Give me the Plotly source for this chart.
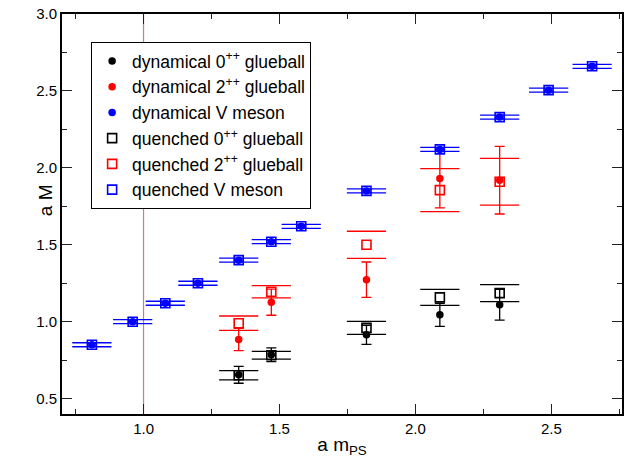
import plotly.graph_objects as go

# ---- data ----
mps_v = [0.81, 0.96, 1.08, 1.20, 1.35, 1.47, 1.58, 1.82, 2.09, 2.31, 2.49, 2.65]
dyn_v = [0.85, 1.00, 1.12, 1.25, 1.40, 1.52, 1.62, 1.85, 2.12, 2.33, 2.505, 2.66]
dyn_v_err = [0.008, 0.008, 0.008, 0.008, 0.008, 0.008, 0.008, 0.008, 0.008, 0.008, 0.008, 0.008]
que_v = [0.85, 1.00, 1.12, 1.25, 1.40, 1.52, 1.62, 1.85, 2.12, 2.33, 2.505, 2.66]
que_v_err = [0.013, 0.013, 0.013, 0.013, 0.013, 0.013, 0.013, 0.013, 0.013, 0.013, 0.013, 0.013]

mps_g = [1.35, 1.47, 1.82, 2.09, 2.31]
dyn_0 = [0.655, 0.785, 0.915, 1.045, 1.11]
dyn_0_err = [0.055, 0.045, 0.062, 0.075, 0.10]
que_0 = [0.652, 0.782, 0.96, 1.158, 1.186]
que_0_err = [0.03, 0.025, 0.042, 0.052, 0.055]

dyn_2 = [0.884, 1.127, 1.273, 1.93, 1.92]
dyn_2_err = [0.072, 0.085, 0.115, 0.19, 0.22]
que_2 = [0.99, 1.195, 1.50, 1.855, 1.91]
que_2_err = [0.047, 0.04, 0.088, 0.14, 0.152]

x_ticks = [1.0, 1.5, 2.0, 2.5]
y_ticks = [0.5, 1.0, 1.5, 2.0, 2.5, 3.0]

BLACK = "#000000"
RED = "#ff0000"
BLUE = "#0000ff"

fig = go.Figure()

def caps(x, y, e, color):
    hi = [a + b for a, b in zip(y, e)]
    lo = [a - b for a, b in zip(y, e)]
    fig.add_trace(go.Scatter(
        x=list(x) + list(x), y=hi + lo, mode="markers", showlegend=False,
        hoverinfo="skip",
        marker=dict(symbol="line-ew", size=28, color=color,
                    line=dict(color=color, width=1.3))))

# quenched caps (no riser)
caps(mps_g, que_0, que_0_err, BLACK)
caps(mps_g, que_2, que_2_err, RED)
caps(mps_v, que_v, que_v_err, BLUE)

def dyn(x, y, e, color, name, rank):
    fig.add_trace(go.Scatter(
        x=x, y=y, mode="markers", name=name, legendrank=rank,
        marker=dict(symbol="circle", size=7.5, color=color,
                    line=dict(width=0)),
        error_y=dict(type="data", array=e, visible=True, color=color,
                     thickness=1.3, width=5)))

def que(x, y, color, name, rank):
    fig.add_trace(go.Scatter(
        x=x, y=y, mode="markers", name=name, legendrank=rank,
        marker=dict(symbol="square-open", size=9, color=color,
                    line=dict(color=color, width=1.6))))

que(mps_g, que_0, BLACK, "quenched 0<sup>++</sup> glueball", 4)
que(mps_g, que_2, RED, "quenched 2<sup>++</sup> glueball", 5)
dyn(mps_g, dyn_0, dyn_0_err, BLACK, "dynamical 0<sup>++</sup> glueball", 1)
dyn(mps_g, dyn_2, dyn_2_err, RED, "dynamical 2<sup>++</sup> glueball", 2)
dyn(mps_v, dyn_v, dyn_v_err, BLUE, "dynamical V meson", 3)
que(mps_v, que_v, BLUE, "quenched V meson", 6)

fig.add_shape(type="line", xref="x", yref="paper", x0=1.0, x1=1.0, y0=0, y1=1,
              line=dict(color="#cc7f7f", width=1.2), layer="below")

axis_common = dict(
    showgrid=False, zeroline=False, showline=True, linecolor="black",
    linewidth=2, mirror="ticks", ticks="inside", ticklen=10, tickwidth=1,
    tickcolor="#222222", tickfont=dict(size=15, color="black"),
    automargin=False,
)

fig.update_xaxes(
    range=[0.7, 2.76], tickvals=x_ticks, ticktext=[f"{v:.1f}" for v in x_ticks],
    minor=dict(dtick=0.25, tick0=0.75, ticks="inside", ticklen=5,
               tickcolor="#222222", showgrid=False),
    title=dict(text="a m<sub>PS</sub>", font=dict(size=19, color="black")),
    **axis_common)
fig.update_yaxes(
    range=[0.4, 3.0], tickvals=y_ticks, ticktext=[f"{v:.1f}" for v in y_ticks],
    minor=dict(dtick=0.25, tick0=0.75, ticks="inside", ticklen=5,
               tickcolor="#222222", showgrid=False),
    **axis_common)

fig.add_annotation(text="a M", xref="paper", yref="paper",
                   x=-0.030, y=0.535, xanchor="center", yanchor="middle",
                   textangle=-90, showarrow=False,
                   font=dict(size=19, color="black"))

fig.update_layout(
    width=641, height=458,
    margin=dict(l=62, r=19, t=14, b=44),
    plot_bgcolor="white", paper_bgcolor="white",
    font=dict(family="Liberation Sans, Arial, sans-serif", color="black"),
    legend=dict(x=0.052, y=0.93, xanchor="left", yanchor="top",
                bgcolor="white", bordercolor="black", borderwidth=1,
                font=dict(size=17.5), tracegroupgap=0, itemsizing="trace"),
    showlegend=True,
)

fig.write_html("out.html", config={"displayModeBar": False},
               post_script="document.body.style.margin='0px';"
                           "document.body.style.padding='0px';")
